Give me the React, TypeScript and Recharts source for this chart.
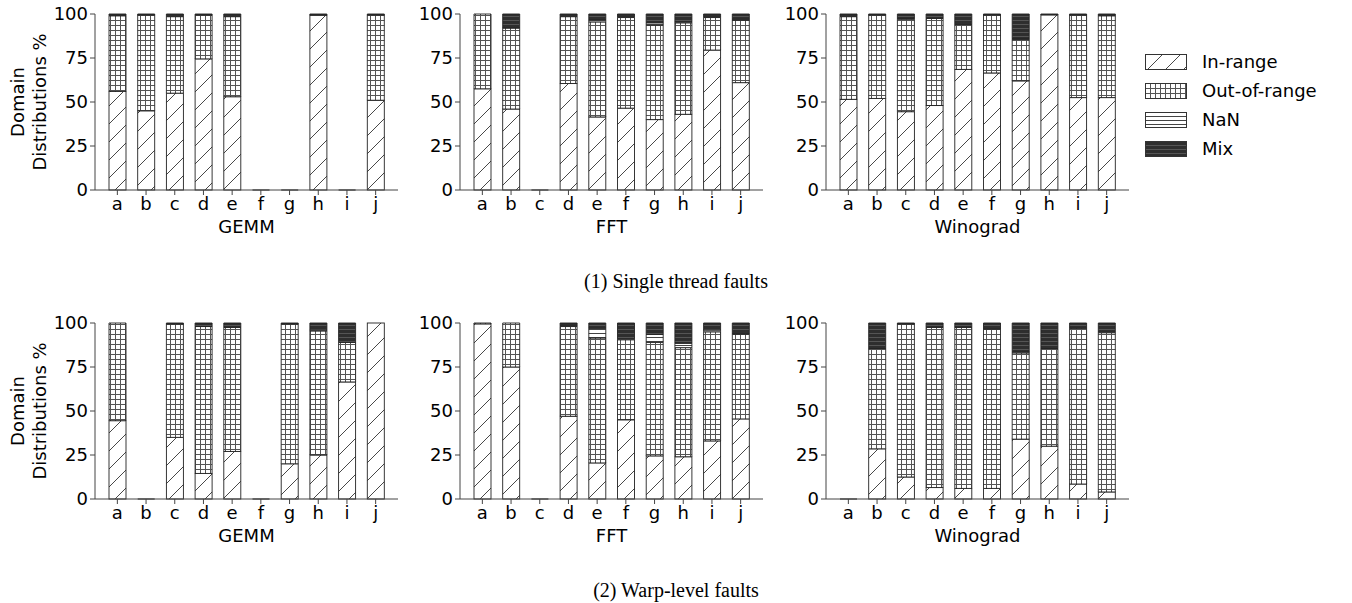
import React from "react"
import { BarChart, Bar, XAxis, YAxis } from "recharts"

const categories = ["a", "b", "c", "d", "e", "f", "g", "h", "i", "j"]
const yTicks = [0, 25, 50, 75, 100]

// (1) Single thread faults
const gemm1In = [56, 45, 55, 74.5, 53, 0, 0, 99.3, 0, 51]
const gemm1Out = [43, 54.5, 43.5, 25, 45.5, 0, 0, 0, 0, 48.5]
const gemm1Nan = [0, 0, 0, 0, 0, 0, 0, 0, 0, 0]
const gemm1Mix = [1, 0.5, 1.5, 0.5, 1.5, 0, 0, 0.7, 0, 0.5]

const fft1In = [57.5, 46, 0, 60.5, 41.5, 46.5, 40, 43, 79.5, 61]
const fft1Out = [42.5, 46, 0, 38, 54, 51.5, 53.5, 52, 18.5, 35.5]
const fft1Nan = [0, 0, 0, 0, 1.3, 0.5, 1.5, 0.5, 0.5, 0.5]
const fft1Mix = [0, 8, 0, 1.5, 3.2, 1.5, 5, 4.5, 1.5, 3]

const wino1In = [51.5, 52, 44.5, 48, 68.5, 66.5, 62, 99.5, 52.5, 52.5]
const wino1Out = [47, 47.5, 52.5, 49.5, 25.5, 33, 23.5, 0, 47, 46.5]
const wino1Nan = [0, 0, 0.5, 0, 0, 0, 0.5, 0, 0, 0]
const wino1Mix = [1.5, 0.5, 2.5, 2.5, 6, 0.5, 14, 0.5, 0.5, 1]

// (2) Warp-level faults
const gemm2In = [44.5, 0, 35, 14.5, 27, 0, 20, 25, 66.5, 100]
const gemm2Out = [55.5, 0, 64.5, 83.5, 70.5, 0, 79.5, 70.5, 22.5, 0]
const gemm2Nan = [0, 0, 0, 0, 0, 0, 0, 0.5, 0, 0]
const gemm2Mix = [0, 0, 0.5, 2, 2.5, 0, 0.5, 4, 11, 0]

const fft2In = [99.5, 75, 0, 47, 20.5, 45, 24.5, 24, 33, 45.5]
const fft2Out = [0.5, 25, 0, 51, 71, 45.5, 64.5, 62, 62, 48]
const fft2Nan = [0, 0, 0, 0.5, 5.5, 0.5, 4.5, 2.5, 1, 0.5]
const fft2Mix = [0, 0, 0, 1.5, 3, 9, 6.5, 11.5, 4, 6]

const wino2In = [0, 28.5, 12.5, 6.5, 6, 6, 34, 30, 8.5, 4]
const wino2Out = [0, 57, 87, 91, 91.5, 90.5, 49, 55.5, 88.5, 90.5]
const wino2Nan = [0, 0, 0, 0, 0, 0, 0.5, 0, 0, 0.5]
const wino2Mix = [0, 14.5, 0.5, 2.5, 2.5, 3.5, 16.5, 14.5, 3, 5]

const series = [
  { key: "inRange", name: "In-range", fill: "url(#pIn)" },
  { key: "outRange", name: "Out-of-range", fill: "url(#pOut)" },
  { key: "nan", name: "NaN", fill: "url(#pNan)" },
  { key: "mix", name: "Mix", fill: "url(#pMix)" },
]

const font = "'DejaVu Sans', sans-serif"
const axisColor = "#444"
const PLOT_W = 303
const PLOT_H = 176
const Y_AXIS_W = 60

// bottom series: also draws a flat line for empty categories like matplotlib does
const InRangeShape = (props: any) => {
  const { x, y, width, height, fill } = props
  if (!height) {
    return <line x1={x} x2={x + width} y1={y} y2={y} stroke="#333" strokeWidth={1.2} />
  }
  return <rect x={x} y={y} width={width} height={height} fill={fill} stroke="#222" strokeWidth={0.9} />
}

function Patterns() {
  return (
    <svg width={0} height={0} style={{ position: "absolute" }}>
      <defs>
        <pattern id="pIn" patternUnits="userSpaceOnUse" width={18} height={18}>
          <rect width={18} height={18} fill="#fff" />
          <path d="M0,18 L18,0 M-2,2 L2,-2 M16,20 L20,16" stroke="#333" strokeWidth={0.9} />
        </pattern>
        <pattern id="pOut" patternUnits="userSpaceOnUse" width={5} height={5}>
          <rect width={5} height={5} fill="#fff" />
          <path d="M0,0.5 H5 M0.5,0 V5" stroke="#555" strokeWidth={1} />
        </pattern>
        <pattern id="pNan" patternUnits="userSpaceOnUse" width={4} height={4}>
          <rect width={4} height={4} fill="#fff" />
          <path d="M0,0.5 H4" stroke="#444" strokeWidth={1} />
        </pattern>
        <pattern id="pMix" patternUnits="userSpaceOnUse" width={4} height={4}>
          <rect width={4} height={4} fill="#2e2e2e" />
          <path d="M0,0.5 H4" stroke="#555" strokeWidth={1} />
        </pattern>
      </defs>
    </svg>
  )
}

interface PanelProps {
  left: number
  top: number
  title: string
  inR: number[]
  outR: number[]
  nan: number[]
  mix: number[]
}

function Panel({ left, top, title, inR, outR, nan, mix }: PanelProps) {
  const data = categories.map((c, i) => ({
    cat: c,
    inRange: inR[i],
    outRange: outR[i],
    nan: nan[i],
    mix: mix[i],
  }))

  return (
    <div style={{ position: "absolute", left: left - Y_AXIS_W, top: top - 14 }}>
      <BarChart
        width={Y_AXIS_W + PLOT_W + 2}
        height={14 + PLOT_H + 60}
        data={data}
        margin={{ top: 14, right: 2, bottom: 0, left: 0 }}
        barSize={17}
      >
        <XAxis
          dataKey="cat"
          padding={{ left: 8, right: 8 }}
          height={60}
          stroke={axisColor}
          tickSize={5}
          tickMargin={2}
          tick={{ fill: "#000", fontSize: 18, fontFamily: font }}
          interval={0}
          label={{
            value: title,
            position: "insideBottom",
            offset: 17,
            fill: "#000",
            fontSize: 18,
            fontFamily: font,
          }}
        />
        <XAxis
          xAxisId="top"
          orientation="top"
          dataKey="cat"
          height={0}
          tick={false}
          tickLine={false}
          stroke={axisColor}
        />
        <YAxis
          domain={[0, 100]}
          ticks={yTicks}
          width={Y_AXIS_W}
          stroke={axisColor}
          tickSize={5}
          tickMargin={2}
          tick={{ fill: "#000", fontSize: 18, fontFamily: font }}
        />
        <YAxis yAxisId="right" orientation="right" width={0} tick={false} tickLine={false} stroke={axisColor} />
        <Bar
          dataKey="inRange"
          stackId="s"
          fill="url(#pIn)"
          shape={InRangeShape}
          isAnimationActive={false}
        />
        {series.slice(1).map((s) => (
          <Bar
            key={s.key}
            dataKey={s.key}
            stackId="s"
            fill={s.fill}
            stroke="#222"
            strokeWidth={0.9}
            isAnimationActive={false}
          />
        ))}
      </BarChart>
    </div>
  )
}

function YLabel({ top }: { top: number }) {
  const cy = top + PLOT_H / 2
  return (
    <svg width={60} height={260} style={{ position: "absolute", left: 0, top: cy - 130 }}>
      <g fontFamily={font} fontSize={18} fill="#000" textAnchor="middle">
        <text transform="translate(24,130) rotate(-90)">Domain</text>
        <text transform="translate(46,130) rotate(-90)">Distributions %</text>
      </g>
    </svg>
  )
}

function PatternLegend() {
  return (
    <div style={{ position: "absolute", left: 1145, top: 47, fontFamily: font, fontSize: 18 }}>
      {series.map((s) => (
        <div key={s.key} style={{ display: "flex", alignItems: "center", height: 29 }}>
          <svg width={42} height={16} style={{ marginRight: 15 }}>
            <rect x={0.5} y={0.5} width={41} height={15} fill={s.fill} stroke="#333" strokeWidth={1} />
          </svg>
          <span>{s.name}</span>
        </div>
      ))}
    </div>
  )
}

const captionStyle: React.CSSProperties = {
  position: "absolute",
  left: 0,
  width: 1352,
  textAlign: "center",
  fontFamily: "'Liberation Serif', serif",
  fontSize: 20,
  lineHeight: "23px",
  color: "#000",
}

export default function App() {
  const rowTop1 = 14
  const rowTop2 = 323
  return (
    <div style={{ position: "absolute", left: 0, top: 0, width: 1352, height: 603, background: "#fff", fontFamily: font }}>
      <Patterns />
      <YLabel top={rowTop1} />
      <YLabel top={rowTop2} />

      <Panel left={95} top={rowTop1} title="GEMM" inR={gemm1In} outR={gemm1Out} nan={gemm1Nan} mix={gemm1Mix} />
      <Panel left={460} top={rowTop1} title="FFT" inR={fft1In} outR={fft1Out} nan={fft1Nan} mix={fft1Mix} />
      <Panel left={826} top={rowTop1} title="Winograd" inR={wino1In} outR={wino1Out} nan={wino1Nan} mix={wino1Mix} />

      <Panel left={95} top={rowTop2} title="GEMM" inR={gemm2In} outR={gemm2Out} nan={gemm2Nan} mix={gemm2Mix} />
      <Panel left={460} top={rowTop2} title="FFT" inR={fft2In} outR={fft2Out} nan={fft2Nan} mix={fft2Mix} />
      <Panel left={826} top={rowTop2} title="Winograd" inR={wino2In} outR={wino2Out} nan={wino2Nan} mix={wino2Mix} />

      <PatternLegend />

      <div style={{ ...captionStyle, top: 270 }}>(1) Single thread faults</div>
      <div style={{ ...captionStyle, top: 579 }}>(2) Warp-level faults</div>
    </div>
  )
}
